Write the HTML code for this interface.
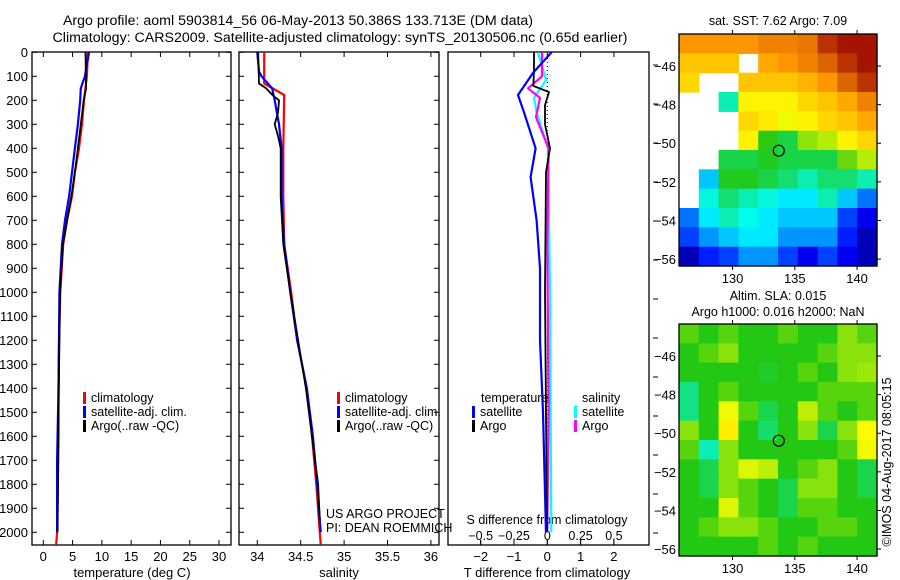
<!DOCTYPE html>
<html><head><meta charset="utf-8"><style>
body{margin:0;background:#fff;}
svg{display:block;font-family:"Liberation Sans",Arial,sans-serif;}
</style></head><body>
<svg id="fig" width="900" height="580" viewBox="0 0 900 580" xmlns="http://www.w3.org/2000/svg">
<text x="298" y="25" font-size="14.2" text-anchor="middle">Argo profile: aoml 5903814_56 06-May-2013 50.386S 133.713E (DM data)</text>
<text x="340" y="42" font-size="14.2" text-anchor="middle">Climatology: CARS2009. Satellite-adjusted climatology: synTS_20130506.nc (0.65d earlier)</text>
<g id="g"></g>
</svg>
<script>
// ---- profile data ----
const tDepthClim=[0,100,200,300,400,500,600,700,800,1000,1200,1400,1600,1800,2000,2050];
const tClim=[7.6,7.45,6.95,6.6,6.1,5.4,4.9,4.05,3.4,2.9,2.7,2.6,2.6,2.5,2.35,2.2];
const tDepthSat=[0,100,150,200,300,400,500,600,700,800,1000,1400,1700,2000];
const tSat=[7.8,7.1,6.4,6.3,5.9,5.4,4.9,4.4,3.7,3.2,2.75,2.6,2.35,2.35];
const tDepthArgo=[0,150,200,300,400,500,600,800,1000,1500,2000];
const tArgo=[7.2,7.3,6.9,6.4,5.9,5.4,4.8,3.35,2.85,2.6,2.45];
const sDepthClim=[0,130,178,400,600,800,1000,1200,1400,1600,1800,2000,2050];
const sClim=[34.08,34.08,34.31,34.30,34.30,34.31,34.39,34.46,34.57,34.63,34.68,34.72,34.73];
const sDepthSat=[0,80,100,150,200,300,400,600,800,1000,1200,1400,1600,1800,1950,2000];
const sSat=[34.0,34.02,34.05,34.17,34.2,34.25,34.28,34.28,34.31,34.38,34.46,34.57,34.64,34.69,34.72,34.73];
const sDepthArgo=[0,130,150,180,200,250,300,350,400,600,800,1000,1400,1800,1950];
const sArgo=[34.01,34.02,34.1,34.18,34.25,34.24,34.2,34.24,34.27,34.27,34.3,34.38,34.56,34.70,34.72];
const dDepthT=[0,86,178,250,400,520,700,900,1200,1500,2000];
const dTSat=[0.13,-0.43,-0.88,-0.7,-0.35,-0.5,-0.32,-0.22,-0.22,-0.13,-0.04];
const dDepthTA=[0,80,140,166,220,300,400,500,1000,1500,2000];
const dTArgo=[-0.4,-0.4,-0.42,0.05,-0.07,-0.07,0.08,-0.04,-0.07,-0.04,-0.01];
const dDepthS=[0,116,190,250,400,1000,2000];
const dSSat=[-0.07,-0.01,-0.1,-0.08,0.005,0.02,0.03];
const dDepthSA=[0,100,150,190,270,400,800,1500,2000];
const dSArgo=[-0.04,-0.04,-0.145,-0.055,-0.085,0.01,0.0,0.01,0.0];
const yTicks=[0,100,200,300,400,500,600,700,800,900,1000,1100,1200,1300,1400,1500,1600,1700,1800,1900,2000];
const tTicks=[0,5,10,15,20,25,30];
const sTicks=[34,34.5,35,35.5,36];
const sTickLabels=['34','34.5','35','35.5','36'];
const dTTicks=[-2,-1,0,1,2];
const dSTicks=[-0.5,-0.25,0,0.25,0.5];
const dSTickLabels=['\u22120.5','\u22120.25','0','0.25','0.5'];
// ---- map data ----
const sstRows=[
[9.5,9.5,9.5,9.5,9.7,9.7,9.8,10.5,10.8,10.8],
[9,9,9,null,9.3,9.5,9.7,10,10.5,10.8],
[8.8,null,null,9,9,9,9.2,9.5,10,10.5],
[null,null,6.5,8.5,8.5,8.5,8.8,9,9.3,9.7],
[null,null,null,8.8,8.6,8.3,8.5,8.8,9,9.3],
[null,null,null,8.5,7.3,7,7.8,8,8.5,8.8],
[null,null,7,7,7.2,7,7,7,7.6,8],
[null,5.8,7.2,7.2,7,6.8,6.5,6.8,6.8,6.5],
[null,6.3,6.8,6.5,6.3,6.0,6.0,6.5,5.8,5.3],
[5.3,6,6.5,6.2,6,5.8,5.8,5.8,5,4.5],
[5,5.5,5.8,6,6,5.5,5.5,5.5,4.8,4],
[4,4.8,5,5.5,5.5,5,4.5,5,4.5,4]];
const slaRows=[
[.55,.5,.55,.5,.5,.55,.5,.5,.6,.55],
[.5,.55,.6,.5,.5,.5,.5,.55,.6,.6],
[.5,.5,.5,.5,.48,.5,.55,.5,.6,.62],
[.4,.5,.55,.5,.5,.5,.5,.55,.55,.55],
[.4,.5,.7,.55,.45,.5,.65,.55,.5,.55],
[.6,.5,.75,.5,.42,.5,.6,.45,.6,.72],
[.55,.35,.6,.5,.5,.5,.5,.5,.55,.7],
[.5,.45,.6,.68,.65,.5,.55,.6,.5,.45],
[.5,.45,.6,.55,.5,.45,.6,.6,.5,.45],
[.5,.5,.68,.55,.5,.45,.55,.55,.5,.5],
[.5,.55,.6,.6,.55,.5,.5,.55,.55,.5],
[.5,.5,.5,.5,.55,.5,.55,.5,.5,.5]];
const lonTicks=[130,135,140];
const latTicks=[-46,-48,-50,-52,-54,-56];
const argoLon=133.713, argoLat=-50.386;

const NS='http://www.w3.org/2000/svg';
const G=document.getElementById('g');
function mk(tag,attrs,parent){const e=document.createElementNS(NS,tag);for(const k in attrs)e.setAttribute(k,attrs[k]);(parent||G).appendChild(e);return e;}
function txt(x,y,s,size,anchor,parent){const e=mk('text',{x:x,y:y,'font-size':size,'text-anchor':anchor||'start'},parent);e.textContent=s;return e;}
const y0=52.3, ky=0.24;
const Y=d=>y0+d*ky;
const PB=545;
function panel(x1,x2,name){
  const r=mk('rect',{x:x1,y:52,width:x2-x1,height:PB-52,fill:'none',stroke:'#000','stroke-width':1.3});
  
  
  return r;
}
function line(xs,ds,fx,color,name,w){
  const pts=xs.map((v,i)=>fx(v).toFixed(1)+','+Y(ds[i]).toFixed(1)).join(' ');
  const p=mk('polyline',{points:pts,fill:'none',stroke:color,'stroke-width':w||2.2,'stroke-linejoin':'round'});
  
  
}
const XT=t=>43.3+t*5.857;
panel(32,231,'temperature-panel');
yTicks.forEach(d=>{mk('line',{x1:32,x2:37,y1:Y(d),y2:Y(d),stroke:'#000'});mk('line',{x1:226,x2:231,y1:Y(d),y2:Y(d),stroke:'#000'});txt(28,Y(d)+4.5,String(d),13,'end');});
tTicks.forEach(t=>{mk('line',{x1:XT(t),x2:XT(t),y1:52,y2:57,stroke:'#000'});mk('line',{x1:XT(t),x2:XT(t),y1:540,y2:545,stroke:'#000'});txt(XT(t),561,String(t),13,'middle');});
txt(132,577,'temperature (deg C)',13,'middle');
line(tClim,tDepthClim,XT,'#ff0000','temp-climatology-line');
line(tSat,tDepthSat,XT,'#0000ff','temp-satellite-line');
line(tArgo,tDepthArgo,XT,'#000000','temp-argo-line',1.8);
function legend(x,y,items){items.forEach((it,i)=>{mk('rect',{x:x,y:y+i*14-10,width:3,height:12,fill:it[1]});txt(x+8,y+i*14,it[0],12.5,'start');});}
legend(83,402,[['climatology','#ff0000'],['satellite-adj. clim.','#0000ff'],['Argo(..raw -QC)','#000']]);
const XS=s=>257.3+(s-34)*86.8;
panel(239,439,'salinity-panel');
yTicks.forEach(d=>{mk('line',{x1:239,x2:244,y1:Y(d),y2:Y(d),stroke:'#000'});mk('line',{x1:434,x2:439,y1:Y(d),y2:Y(d),stroke:'#000'});});
sTicks.forEach((s,i)=>{mk('line',{x1:XS(s),x2:XS(s),y1:52,y2:57,stroke:'#000'});mk('line',{x1:XS(s),x2:XS(s),y1:540,y2:545,stroke:'#000'});txt(XS(s),561,sTickLabels[i],13,'middle');});
txt(339,577,'salinity',13,'middle');
line(sClim,sDepthClim,XS,'#ff0000','sal-climatology-line');
line(sSat,sDepthSat,XS,'#0000ff','sal-satellite-line');
line(sArgo,sDepthArgo,XS,'#000000','sal-argo-line',1.8);
legend(337,402,[['climatology','#ff0000'],['satellite-adj. clim.','#0000ff'],['Argo(..raw -QC)','#000']]);
txt(326,518,'US ARGO PROJECT',12.5,'start');
txt(326,532,'PI: DEAN ROEMMICH',12.5,'start');
const XD=t=>547.3+t*33.3;
const XDS=s=>547.3+s*4*33.3;
panel(448,649,'difference-panel');
dTTicks.forEach(t=>{mk('line',{x1:XD(t),x2:XD(t),y1:52,y2:57,stroke:'#000'});mk('line',{x1:XD(t),x2:XD(t),y1:540,y2:545,stroke:'#000'});txt(XD(t),561,t<0?'\u2212'+(-t):String(t),13,'middle');});
dSTicks.forEach((s,i)=>{mk('line',{x1:XDS(s),x2:XDS(s),y1:540,y2:545,stroke:'#000'});txt(XDS(s),540,dSTickLabels[i],12.5,'middle');});
for(let k=0;k<13;k++){mk('line',{x1:653,x2:658,y1:65+k*39,y2:65+k*39,stroke:'#000'});}
mk('line',{x1:XD(0),x2:XD(0),y1:54,y2:520,stroke:'#000','stroke-dasharray':'1,3'});
txt(547,577,'T difference from climatology',13,'middle');
txt(547,524,'S difference from climatology',12.5,'middle');
line(dSSat,dDepthS,XDS,'#00ffff','sal-diff-satellite-line');
line(dSArgo,dDepthSA,XDS,'#ff00ff','sal-diff-argo-line');
line(dTArgo,dDepthTA,XD,'#000000','temp-diff-argo-line',1.8);
line(dTSat,dDepthT,XD,'#0000ff','temp-diff-satellite-line');
txt(481,402,'temperature',12.5,'start');
txt(582,402,'salinity',12.5,'start');
legend(472,416,[['satellite','#0000ff'],['Argo','#000']]);
legend(574,416,[['satellite','#00ffff'],['Argo','#ff00ff']]);
const stops=[[0,[0,0,128]],[0.15,[0,0,255]],[0.35,[0,255,255]],[0.5,[34,200,20]],[0.65,[255,255,0]],[0.8,[255,150,0]],[1,[150,0,0]]];
function cmap(t){t=Math.max(0,Math.min(1,t));for(let i=1;i<stops.length;i++){if(t<=stops[i][0]){const a=stops[i-1],b=stops[i],f=(t-a[0])/(b[0]-a[0]);return 'rgb('+a[1].map((v,j)=>Math.round(v+(b[1][j]-v)*f)).join(',')+')';}}return 'rgb(150,0,0)';}
function map(top,rows,norm,name){
  const L=679,R=877,T=top,B=top+232;
  const lonL=125.7,lonR=141.6,latT=-44.34,latB=-56.36;
  const MX=lon=>L+(lon-lonL)/(lonR-lonL)*(R-L);
  const MY=lat=>T+(lat-latT)/(latB-latT)*(B-T);
  const g=mk('g',{});
  
  
  const nr=rows.length,nc=rows[0].length,cw=(R-L)/nc,ch=(B-T)/nr;
  rows.forEach((row,i)=>row.forEach((v,j)=>{if(v===null)return;
    const c=mk('rect',{x:L+j*cw,y:T+i*ch,width:cw+0.6,height:ch+0.6,fill:cmap(norm(v))},g);
    
    }));
  mk('rect',{x:L,y:T,width:R-L,height:B-T,fill:'none',stroke:'#000','stroke-width':1.3});
  lonTicks.forEach(l=>{mk('line',{x1:MX(l),x2:MX(l),y1:T-4,y2:T,stroke:'#000'});mk('line',{x1:MX(l),x2:MX(l),y1:B,y2:B+4,stroke:'#000'});txt(MX(l),B+17,String(l),13,'middle');});
  latTicks.forEach(l=>{mk('line',{x1:R,x2:R+4,y1:MY(l),y2:MY(l),stroke:'#000'});txt(676,MY(l)+5,String(l).replace('-','\u2212'),13,'end');});
  const c=mk('circle',{cx:MX(argoLon),cy:MY(argoLat),r:5.5,fill:'none',stroke:'#000','stroke-width':1.2});
  
  
}
map(34,sstRows,v=>(v-3.5)/7.5,'sst-map');
map(324,slaRows,v=>0.5+(v-0.5)*0.7,'sla-map');
txt(778,25,'sat. SST: 7.62 Argo: 7.09',12.5,'middle');
txt(778,300,'Altim. SLA: 0.015',12.5,'middle');
txt(778,316,'Argo h1000: 0.016 h2000: NaN',12.5,'middle');
const cr=txt(0,0,'\u00a9IMOS 04-Aug-2017 08:05:15',12.5,'middle');
cr.setAttribute('transform','translate(891,462) rotate(-90)');


</script>
</body></html>
